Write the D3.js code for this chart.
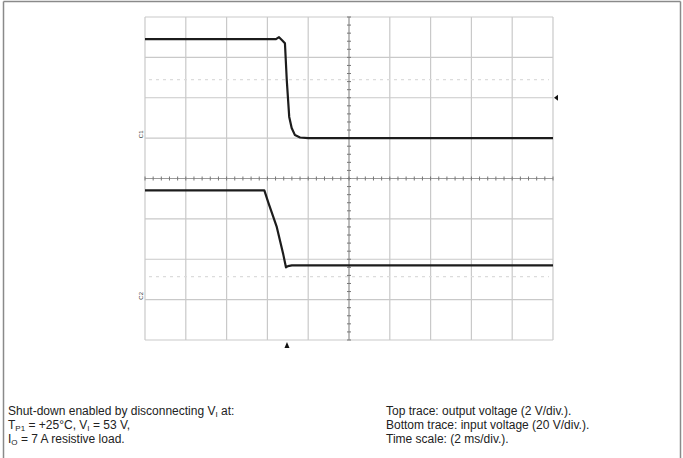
<!DOCTYPE html>
<html>
<head>
<meta charset="utf-8">
<script src="https://cdn.jsdelivr.net/npm/d3@7"></script>
<style>
  html, body { margin: 0; padding: 0; background: #fff; }
  svg { display: block; }
  text { font-family: "Liberation Sans", Arial, sans-serif; fill: #222; }
</style>
</head>
<body>
<svg id="chart" width="683" height="458"></svg>
<script>
// Oscilloscope capture: shut-down by disconnecting the input voltage.
// Time axis: 10 divisions of 2 ms. Vertical: 8 divisions.
const timeTicks = [0, 2, 4, 6, 8, 10, 12, 14, 16, 18, 20];   // ms
const divisions = [0, 1, 2, 3, 4, 5, 6, 7, 8];

// Channel 1 – output voltage (2 V/div), ground at 3 div below top
const outTime = [0, 6.42, 6.57, 6.72, 6.86, 6.95, 7.07, 7.19, 7.35, 7.60, 8.0, 20];
const outVolt = [4.9, 4.9, 5.0, 4.85, 4.7, 2.87, 1.05, 0.50, 0.15, 0.03, 0.0, 0.0];

// Channel 2 – input voltage (20 V/div), ground at 7 div below top
const inTime = [0, 5.85, 6.05, 6.45, 6.78, 6.91, 7.01, 7.20, 20];
const inVolt = [54.1, 54.1, 47.9, 36.3, 22.3, 16.0, 16.6, 17.0, 17.0];

// Scope markers
const triggerTime = 6.96;      // ms, trigger position
const triggerLevel = 2.0;      // V on channel 1
const cursorOut = 2.9;         // V, faint cursor on channel 1
const cursorIn = 11.4;         // V, faint cursor on channel 2

const captionLeft = [
  [{t: "Shut-down enabled by disconnecting V"}, {t: "I", sub: true}, {t: " at:"}],
  [{t: "T"}, {t: "P1", sub: true}, {t: " = +25°C, V"}, {t: "I", sub: true}, {t: " = 53 V,"}],
  [{t: "I"}, {t: "O", sub: true}, {t: " = 7 A resistive load."}]
];
const captionRight = [
  [{t: "Top trace: output voltage (2 V/div.)."}],
  [{t: "Bottom trace: input voltage (20 V/div.)."}],
  [{t: "Time scale: (2 ms/div.)."}]
];

const svg = d3.select("#chart");
const plot = {left: 145, right: 553, top: 17, bottom: 340};

const x = d3.scaleLinear().domain([0, 20]).range([plot.left, plot.right]);
const yDiv = d3.scaleLinear().domain([0, 8]).range([plot.top, plot.bottom]);
const yOut = d3.scaleLinear().domain([-10, 6]).range([plot.bottom, plot.top]);
const yIn = d3.scaleLinear().domain([-20, 140]).range([plot.bottom, plot.top]);

// Outer figure frame
const frame = svg.append("g").attr("stroke", "#8a8a8a").attr("stroke-width", 1.5).attr("fill", "none");
frame.append("line").attr("x1", 3.5).attr("x2", 680.5).attr("y1", 1.5).attr("y2", 1.5);
frame.append("line").attr("x1", 3.5).attr("x2", 3.5).attr("y1", 1.5).attr("y2", 458);
frame.append("line").attr("x1", 680.5).attr("x2", 680.5).attr("y1", 1.5).attr("y2", 458);

// Graticule
const grid = svg.append("g").attr("stroke", "#c9c9c9").attr("stroke-width", 1.2);
grid.selectAll("line.v").data(timeTicks).join("line")
  .attr("x1", d => x(d)).attr("x2", d => x(d))
  .attr("y1", plot.top).attr("y2", plot.bottom);
grid.selectAll("line.h").data(divisions).join("line")
  .attr("x1", plot.left).attr("x2", plot.right)
  .attr("y1", d => yDiv(d)).attr("y2", d => yDiv(d));

// Faint cursor lines
svg.append("g").attr("stroke", "#dcdcdc").attr("stroke-width", 1.2).attr("stroke-dasharray", "3,4")
  .selectAll("line").data([yOut(cursorOut), yIn(cursorIn)]).join("line")
  .attr("x1", plot.left + 4).attr("x2", plot.right - 4)
  .attr("y1", d => d).attr("y2", d => d);

// Centre cross with minor ticks (5 per division)
const cx = x(10), cy = yDiv(4);
const cross = svg.append("g").attr("stroke", "#9a9a9a").attr("stroke-width", 1);
cross.append("line").attr("x1", cx).attr("x2", cx).attr("y1", plot.top).attr("y2", plot.bottom);
cross.append("line").attr("x1", plot.left).attr("x2", plot.right).attr("y1", cy).attr("y2", cy);
const minorT = d3.range(0, 50.5, 1).map(i => i * 0.4);
const minorV = d3.range(0, 40.5, 1).map(i => i * 0.2);
cross.selectAll("line.mt").data(minorT).join("line")
  .attr("x1", d => x(d)).attr("x2", d => x(d))
  .attr("y1", cy - 2).attr("y2", cy + 2).attr("stroke", "#777");
cross.selectAll("line.mv").data(minorV).join("line")
  .attr("x1", cx - 2).attr("x2", cx + 2)
  .attr("y1", d => yDiv(d)).attr("y2", d => yDiv(d)).attr("stroke", "#777");

// Traces
const lineOut = d3.line().x((d, i) => x(outTime[i])).y(d => yOut(d));
const lineIn = d3.line().x((d, i) => x(inTime[i])).y(d => yIn(d));
svg.append("path").attr("d", lineOut(outVolt))
  .attr("fill", "none").attr("stroke", "#1c1c1c").attr("stroke-width", 2.2).attr("stroke-linejoin", "round");
svg.append("path").attr("d", lineIn(inVolt))
  .attr("fill", "none").attr("stroke", "#1c1c1c").attr("stroke-width", 2.2).attr("stroke-linejoin", "round");

// Ground markers on the left edge
[[yOut(0), "C1"], [yIn(0), "C2"]].forEach(([gy, lbl]) => {
  svg.append("text").attr("transform", `translate(${plot.left - 2},${gy}) rotate(-90)`)
    .attr("font-size", 6).attr("text-anchor", "start").style("fill", "#333").text(lbl);
});

// Trigger level marker (right) and trigger position marker (bottom)
const tl = yOut(triggerLevel);
svg.append("path").attr("fill", "#111")
  .attr("d", `M${plot.right + 1},${tl} L${plot.right + 5},${tl - 3} L${plot.right + 5},${tl + 3} Z`);
const tx = x(triggerTime);
svg.append("path").attr("fill", "#111")
  .attr("d", `M${tx},${plot.bottom + 2} L${tx - 2.5},${plot.bottom + 8} L${tx + 2.5},${plot.bottom + 8} Z`);

// Caption
function writeLines(lines, x0) {
  lines.forEach((parts, i) => {
    const t = svg.append("text").attr("x", x0).attr("y", 415 + i * 14).attr("font-size", 12);
    parts.forEach((p, j) => {
      const prev = parts[j - 1];
      const s = t.append("tspan").text(p.t);
      if (p.sub) s.attr("font-size", 8).attr("dy", 2);
      else s.attr("dy", prev && prev.sub ? -2 : 0);
    });
  });
}
writeLines(captionLeft, 8);
writeLines(captionRight, 386);
</script>
</body>
</html>
